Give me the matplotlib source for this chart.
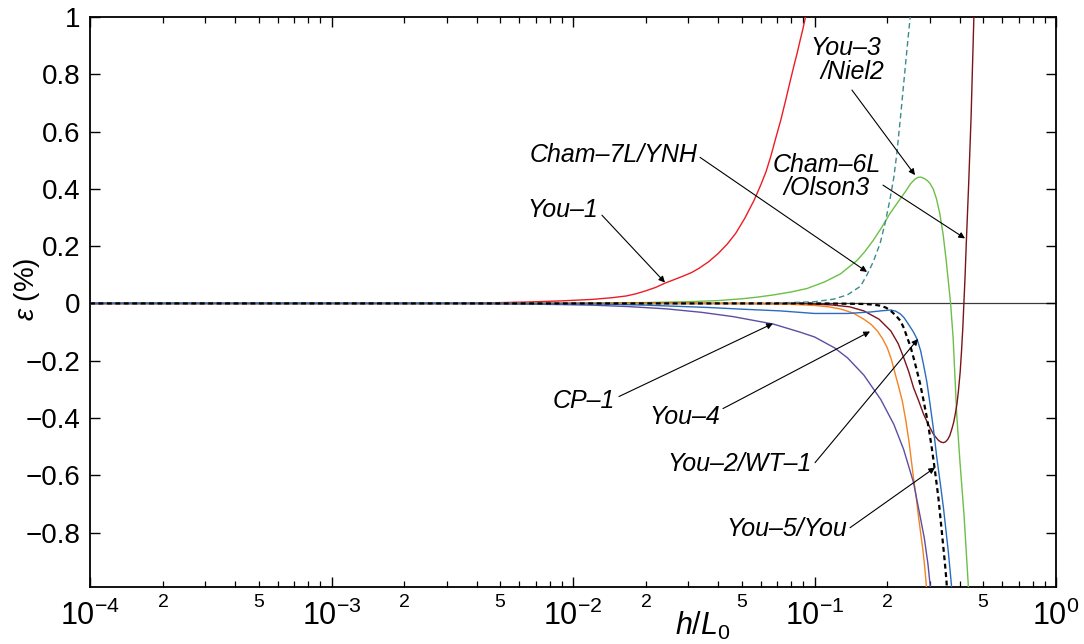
import numpy as np
import matplotlib
matplotlib.use("Agg")
import matplotlib.pyplot as plt
from matplotlib import ticker

plt.rcParams['font.family'] = ['Liberation Sans', 'DejaVu Sans']
plt.rcParams['mathtext.fontset'] = 'custom'
plt.rcParams['mathtext.rm'] = 'Liberation Sans'
plt.rcParams['mathtext.it'] = 'Liberation Sans:italic'
plt.rcParams['mathtext.bf'] = 'Liberation Sans:bold'
plt.rcParams['axes.unicode_minus'] = True

# ---------------- data ----------------
# You-1 (red)
h_you1 = [1e-4, 1e-3, 0.003, 0.0045, 0.0065, 0.009, 0.012, 0.0145, 0.0166, 0.0183, 0.020, 0.022,
          0.0239, 0.0262, 0.0285, 0.031, 0.0333, 0.0365, 0.040, 0.0435, 0.0472, 0.0515, 0.0562,
          0.060, 0.063, 0.066, 0.069, 0.0725, 0.076, 0.079, 0.0822, 0.0847, 0.087, 0.0895,
          0.0918, 0.097]
e_you1 = [0, 0, 0.0, 0.002, 0.005, 0.009, 0.014, 0.020, 0.026, 0.034, 0.044, 0.056,
          0.070, 0.083, 0.095, 0.108, 0.123, 0.146, 0.175, 0.207, 0.245, 0.298, 0.36,
          0.415, 0.46, 0.515, 0.575, 0.64, 0.71, 0.77, 0.83, 0.873, 0.915, 0.958,
          1.0, 1.10]

# You-3/Niel2 (green)
h_you3 = [1e-4, 0.005, 0.01, 0.02, 0.03, 0.04, 0.0497, 0.058, 0.068, 0.080, 0.093, 0.110, 0.128,
          0.150, 0.162, 0.175, 0.190, 0.205, 0.220, 0.240, 0.250, 0.260, 0.268, 0.276, 0.285,
          0.293, 0.300, 0.310, 0.320, 0.330, 0.341, 0.351, 0.360, 0.366, 0.375, 0.388, 0.400,
          0.416, 0.434, 0.445]
e_you3 = [0, 0, 0.001, 0.003, 0.006, 0.010, 0.016, 0.022, 0.030, 0.040, 0.052, 0.075, 0.103,
          0.150, 0.182, 0.220, 0.266, 0.313, 0.350, 0.395, 0.418, 0.433, 0.440, 0.441, 0.436,
          0.429, 0.420, 0.400, 0.365, 0.315, 0.240, 0.150, 0.060, 0.0, -0.12, -0.387, -0.55,
          -0.737, -0.994, -1.15]

# Cham-7L/YNH (teal dashed)
h_cham7 = [1e-4, 0.03, 0.06, 0.08, 0.10, 0.12, 0.137, 0.155, 0.165, 0.175, 0.187, 0.196,
           0.205, 0.213, 0.219, 0.227, 0.233, 0.241, 0.249, 0.256]
e_cham7 = [0, 0, 0.001, 0.003, 0.006, 0.015, 0.03, 0.06, 0.10, 0.145, 0.21, 0.28,
           0.36, 0.44, 0.52, 0.65, 0.75, 0.88, 1.0, 1.12]

# Cham-6L/Olson3 (maroon)
h_cham6 = [1e-4, 0.05, 0.08, 0.10, 0.117, 0.14, 0.160, 0.185, 0.207, 0.222, 0.234, 0.246,
           0.257, 0.270, 0.283, 0.297, 0.311, 0.326, 0.334, 0.342, 0.349, 0.356, 0.363, 0.370,
           0.377, 0.383, 0.389, 0.394, 0.401, 0.406, 0.411, 0.415, 0.420, 0.426, 0.435, 0.445,
           0.457, 0.465]
e_cham6 = [0, 0, -0.001, -0.003, -0.005, -0.012, -0.026, -0.055, -0.096, -0.14, -0.189, -0.24,
           -0.294, -0.34, -0.387, -0.425, -0.457, -0.478, -0.484, -0.486, -0.483, -0.475, -0.462,
           -0.44, -0.415, -0.385, -0.35, -0.31, -0.24, -0.17, -0.09, -0.01, 0.09, 0.229, 0.42,
           0.65, 1.0, 1.2]

# You-4 (orange)
h_you4 = [1e-4, 0.03, 0.06, 0.08, 0.10, 0.115, 0.129, 0.145, 0.160, 0.172, 0.182, 0.191, 0.200,
          0.208, 0.216, 0.223, 0.231, 0.239, 0.246, 0.257, 0.264, 0.270, 0.276, 0.281, 0.286,
          0.291, 0.296]
e_you4 = [0, 0, -0.001, -0.003, -0.007, -0.012, -0.020, -0.034, -0.055, -0.074, -0.096, -0.122,
          -0.154, -0.195, -0.247, -0.29, -0.341, -0.41, -0.48, -0.609, -0.68, -0.749, -0.81,
          -0.86, -0.92, -0.994, -1.08]

# CP-1 (purple)
h_cp1 = [1e-4, 0.003, 0.006, 0.009, 0.012, 0.017, 0.0244, 0.034, 0.046, 0.0675, 0.087, 0.100,
         0.121, 0.137, 0.160, 0.188, 0.213, 0.234, 0.257, 0.274, 0.285, 0.295, 0.302, 0.31]
e_cp1 = [0, 0, -0.002, -0.004, -0.006, -0.011, -0.019, -0.031, -0.046, -0.072, -0.100, -0.117,
         -0.155, -0.19, -0.25, -0.335, -0.422, -0.51, -0.625, -0.745, -0.82, -0.91, -0.994, -1.1]

# You-2/WT-1 (blue)
h_you2 = [1e-4, 0.004, 0.008, 0.013, 0.020, 0.036, 0.050, 0.072, 0.100, 0.137, 0.170, 0.188,
          0.207, 0.217, 0.227, 0.235, 0.242, 0.249, 0.257, 0.266, 0.275, 0.283, 0.292, 0.301,
          0.311, 0.321, 0.332, 0.342, 0.350, 0.358, 0.365, 0.370, 0.376]
e_you2 = [0, 0, -0.001, -0.002, -0.006, -0.014, -0.020, -0.026, -0.035, -0.035, -0.030, -0.026,
          -0.023, -0.027, -0.037, -0.05, -0.066, -0.082, -0.10, -0.125, -0.165, -0.215, -0.275,
          -0.352, -0.44, -0.539, -0.63, -0.714, -0.79, -0.865, -0.94, -0.994, -1.07]

# You-5/You (black dashed)
h_you5 = [1e-4, 0.10, 0.14, 0.16, 0.175, 0.188, 0.198, 0.207, 0.217, 0.227, 0.235, 0.242,
          0.250, 0.257, 0.265, 0.274, 0.283, 0.292, 0.299, 0.306, 0.316, 0.326, 0.336, 0.347,
          0.352, 0.357]
e_you5 = [0, 0, -0.001, -0.002, -0.004, -0.008, -0.015, -0.026, -0.042, -0.061, -0.088, -0.119,
          -0.152, -0.189, -0.232, -0.282, -0.34, -0.399, -0.45, -0.505, -0.59, -0.68, -0.79,
          -0.91, -0.97, -1.05]

y_ticks = [-0.8, -0.6, -0.4, -0.2, 0.0, 0.2, 0.4, 0.6, 0.8, 1.0]

# ---------------- figure ----------------
fig = plt.figure(figsize=(10.84, 6.44), dpi=100)
ax = fig.add_axes([90 / 1084, 1 - 587 / 644, 966 / 1084, 570 / 644])

ax.axhline(0, color='#3a3a3a', lw=0.9, zorder=1)

lw = 1.0
ax.plot(h_you1, e_you1, color='#ec1c24', lw=lw, zorder=3)
ax.plot(h_you3, e_you3, color='#6cbf47', lw=lw, zorder=3)
ax.plot(h_cham7, e_cham7, color='#3d8a8c', lw=lw, ls=(0, (4, 2.5)), zorder=3)
ax.plot(h_cham6, e_cham6, color='#7a1418', lw=lw, zorder=3)
ax.plot(h_you4, e_you4, color='#f5821f', lw=lw, zorder=3)
ax.plot(h_cp1, e_cp1, color='#5b4ea3', lw=lw, zorder=3)
ax.plot(h_you2, e_you2, color='#2a6cc0', lw=lw, zorder=3)
ax.plot(h_you5, e_you5, color='black', lw=1.6, ls=(0, (2.2, 1.6)), zorder=4)

ax.set_xscale('log')
ax.set_xlim(1e-4, 1)
ax.set_ylim(-0.99, 1)

ax.xaxis.set_major_locator(ticker.LogLocator(base=10, numticks=10))
ax.xaxis.set_major_formatter(ticker.FuncFormatter(
    lambda v, p: r'$10^{%d}$' % int(round(np.log10(v)))))
ax.xaxis.set_minor_locator(ticker.LogLocator(base=10, subs=np.arange(2, 10), numticks=40))


def minor_fmt(v, p):
    m = v / 10 ** np.floor(np.log10(v) + 1e-9)
    mi = int(round(m))
    if mi in (2, 5):
        return r'$\mathit{%d}$' % mi
    return ''


ax.xaxis.set_minor_formatter(ticker.FuncFormatter(minor_fmt))


def y_fmt(v, p):
    if abs(v) < 1e-9:
        return '0'
    s = ('%.1f' % v).rstrip('0').rstrip('.')
    return s.replace('-', '\u2212')


ax.set_yticks(y_ticks)
ax.yaxis.set_major_formatter(ticker.FuncFormatter(y_fmt))

ax.tick_params(which='both', direction='in', top=True, right=True)
ax.tick_params(which='major', length=7, width=1.0)
ax.tick_params(which='minor', length=4, width=0.9)
ax.tick_params(axis='x', which='major', labelsize=22, pad=10)
ax.tick_params(axis='x', which='minor', labelsize=14, pad=5)
ax.tick_params(axis='y', labelsize=20, pad=7)
for s in ax.spines.values():
    s.set_linewidth(1.3)

ax.set_xlabel(r'$\mathit{h/L_0}$', fontsize=22)
ax.xaxis.set_label_coords(0.634, -0.040)
ax.set_ylabel(r'$\mathit{\varepsilon}$ (%)', fontsize=20)
ax.yaxis.set_label_coords(-0.050, 0.523)

# ---------------- annotations ----------------
tkw = dict(fontsize=18, style='italic', color='black')
akw = dict(arrowstyle='-|>', color='black', lw=0.8, mutation_scale=9,
           shrinkA=0, shrinkB=0)


def arrow(start, tip):
    ax.annotate('', xy=tip, xytext=start, arrowprops=akw, zorder=6)


ax.text(0.01269, 0.325, 'You\u20131', ha='right', va='center', **tkw)
arrow((0.01318, 0.308), (0.02404, 0.073))

ax.text(0.03293, 0.517, 'Cham\u20137L/YNH', ha='right', va='center', **tkw)
arrow((0.03357, 0.510), (0.1650, 0.11))

ax.text(0.0958, 0.892, 'You\u20133', ha='left', va='center', **tkw)
ax.text(0.1054, 0.808, '/Niel2', ha='left', va='center', **tkw)
arrow((0.1429, 0.745), (0.2607, 0.448))

ax.text(0.0673, 0.483, 'Cham\u20136L', ha='left', va='center', **tkw)
ax.text(0.0741, 0.402, '/Olson3', ha='left', va='center', **tkw)
arrow((0.1921, 0.413), (0.420, 0.227))

ax.text(0.01493, -0.339, 'CP\u20131', ha='right', va='center', **tkw)
arrow((0.0155, -0.325), (0.0673, -0.070))

ax.text(0.0406, -0.395, 'You\u20134', ha='right', va='center', **tkw)
arrow((0.0418, -0.367), (0.1698, -0.098))

ax.text(0.0976, -0.559, 'You\u20132/WT\u20131', ha='right', va='center', **tkw)
arrow((0.1005, -0.556), (0.2684, -0.124))

ax.text(0.1364, -0.787, 'You\u20135/You', ha='right', va='center', **tkw)
arrow((0.1403, -0.783), (0.3155, -0.573))

fig.savefig('out.png', dpi=100)
